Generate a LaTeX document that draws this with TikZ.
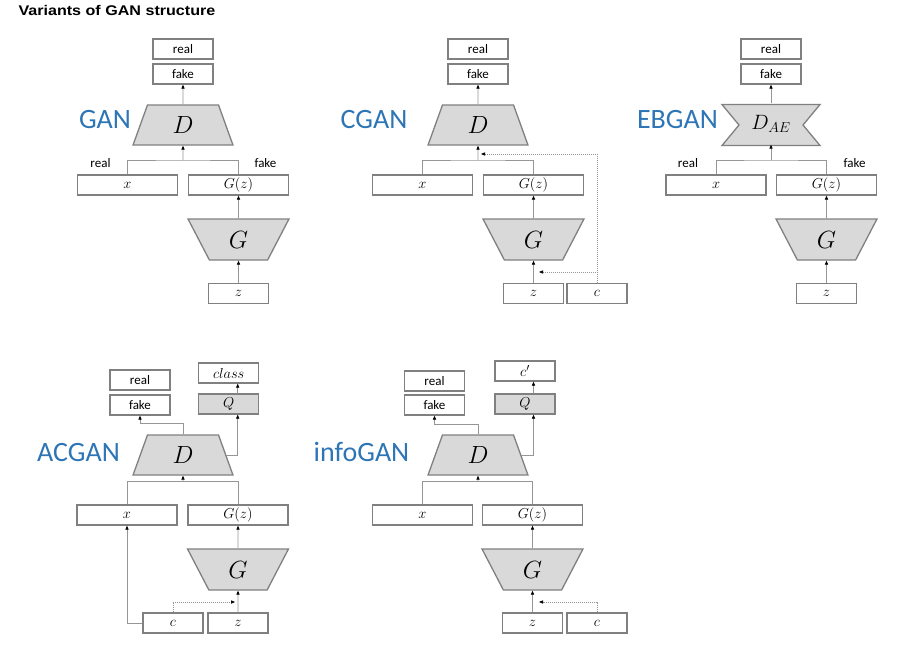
\documentclass[tikz,border=0pt]{standalone}
\usepackage{fontspec}
\setmainfont{Carlito}
\newfontfamily\headfont[FakeStretch=1.15]{Liberation Sans}
\usetikzlibrary{shapes.geometric,arrows.meta}

\definecolor{boxgray}{RGB}{128,128,128}
\definecolor{netgray}{RGB}{217,217,217}
\definecolor{linegray}{RGB}{150,150,150}
\definecolor{ganblue}{RGB}{46,117,182}

\tikzset{
  wide/.style={draw=boxgray, line width=1.3pt, fill=white, minimum width=100pt, minimum height=20pt, inner sep=0pt, font=\fontsize{15}{16}\selectfont},
  small/.style={wide, minimum width=60pt},
  word/.style={small, font=\fontsize{13}{14}\selectfont},
  qbox/.style={small, fill=netgray},
  dnet/.style={trapezium, trapezium left angle=76, trapezium right angle=76, trapezium stretches=true, minimum width=100pt, minimum height=40pt, draw=boxgray, line width=1.3pt, fill=netgray, inner sep=0pt, font=\fontsize{28}{30}\selectfont},
  gnet/.style={dnet, trapezium left angle=112.5, trapezium right angle=112.5, minimum width=101pt, minimum height=41pt, font=\fontsize{25}{27}\selectfont},
  link/.style={draw=linegray, line width=0.7pt, -{Triangle[length=4pt,width=3.2pt,color=black]}},
  nolink/.style={draw=linegray, line width=0.7pt},
  cond/.style={link, dash pattern=on 1pt off 1pt},
  tag/.style={font=\fontsize{13}{14}\selectfont},
  variant/.style={text=ganblue, font=\fontsize{28}{30}\selectfont},
}

\begin{document}
\begin{tikzpicture}[x=1pt,y=1pt,yscale=-1,xscale=1]
\useasboundingbox (0,0) rectangle (916,657);

% Title
\node[anchor=base west, font=\headfont\bfseries\fontsize{14}{16}\selectfont] (title) at (15,15.5) {Variants of GAN structure};

%%%% GAN
\node[variant] (gan) at (105,120) {GAN};
\node[word] (real1) at (183,49) {real};
\node[word] (fake1) at (183,74) {fake};
\node[dnet] (D1) at (183,125) {$D$};
\node[wide] (x1) at (127.5,185) {$x$};
\node[wide] (Gz1) at (238.5,185) {$G(z)$};
\node[gnet] (G1) at (238.5,239.5) {$G$};
\node[small] (z1) at (238.5,293.5) {$z$};
% Text Node
\node[tag] (r1) at (100.5,163) {real};
\node[tag] (f1) at (265.5,163) {fake};
\coordinate (j1) at (183,160);
\draw[link] (D1.north) -- (fake1.south);
\draw[nolink] (x1.north) |- (j1) -| (Gz1.north);
\draw[link] (j1) -- (D1.south);
\draw[link] (G1.north) -- (Gz1.south);
\draw[link] (z1.north) -- (G1.south);

%%%% CGAN
\node[variant] (cgan) at (374,120) {CGAN};
\node[word] (real2) at (478,49) {real};
\node[word] (fake2) at (478,74) {fake};
\node[dnet] (D2) at (478,125) {$D$};
\node[wide] (x2) at (422.5,185) {$x$};
\node[wide] (Gz2) at (533.5,185) {$G(z)$};
\node[gnet] (G2) at (533.5,239.5) {$G$};
\node[small] (z2) at (533.5,293.5) {$z$};
\node[small] (c2) at (597,293.5) {$c$};
\coordinate (j2) at (478,160);
\coordinate (cd2) at (481,154);
\coordinate (cg2) at (539,272);
\draw[link] (D2.north) -- (fake2.south);
\draw[nolink] (x2.north) |- (j2) -| (Gz2.north);
\draw[link] (j2) -- (D2.south);
\draw[link] (G2.north) -- (Gz2.south);
\draw[link] (z2.north) -- (G2.south);
\draw[cond] (c2.north) |- (cd2);
\draw[cond] (c2.north) |- (cg2);

%%%% EBGAN
\node[variant] (ebgan) at (677.5,120) {EBGAN};
\node[word] (real3) at (771,49) {real};
\node[word] (fake3) at (771,74) {fake};
%Shape: auto-encoder discriminator
\draw[draw=boxgray, line width=1.3pt, fill=netgray] (722,104.5) -- (820,104.5) -- (803,125) -- (820,145.5) -- (722,145.5) -- (739,125) -- cycle;
\node[minimum height=41pt, inner sep=0pt, font=\fontsize{21}{23}\selectfont] (D3) at (771,124) {$D_{AE}$};
\node[wide] (x3) at (716,185) {$x$};
\node[wide] (Gz3) at (826.5,185) {$G(z)$};
\node[gnet] (G3) at (826.5,239.5) {$G$};
\node[small] (z3) at (826.5,293.5) {$z$};
% Text Node
\node[tag] (r3) at (688,163) {real};
\node[tag] (f3) at (854.5,163) {fake};
\coordinate (j3) at (771,160);
\draw[link] (D3.north) -- (fake3.south);
\draw[nolink] (x3.north) |- (j3) -| (Gz3.north);
\draw[link] (j3) -- (D3.south);
\draw[link] (G3.north) -- (Gz3.south);
\draw[link] (z3.north) -- (G3.south);

%%%% ACGAN
\node[variant] (acgan) at (78.5,453) {ACGAN};
\node[word] (real4) at (140,380) {real};
\node[word] (fake4) at (140,405) {fake};
\node[small] (cls4) at (228.7,373) {$class$};
\node[qbox] (Q4) at (228.7,404) {$Q$};
\node[dnet] (D4) at (183,455) {$D$};
\node[wide] (x4) at (127,515) {$x$};
\node[wide] (Gz4) at (238,515) {$G(z)$};
\node[gnet] (G4) at (238,569.5) {$G$};
\node[small] (c4) at (173,623) {$c$};
\node[small] (z4) at (238,623) {$z$};
\coordinate (j4) at (183,481.7);
\coordinate (cg4) at (235,602);
\draw[link] (D4.north) -- ++(0,-11) -| (fake4.south);
\draw[link] (D4.east) -| ([xshift=9pt]Q4.south);
\draw[link] ([xshift=9pt]Q4.north) -- ([xshift=9pt]cls4.south);
\draw[nolink] (x4.north) |- (j4) -| (Gz4.north);
\draw[link] (j4) -- (D4.south);
\draw[link] (G4.north) -- (Gz4.south);
\draw[link] (z4.north) -- (G4.south);
\draw[link] (c4.west) -| (x4.south);
\draw[cond] (c4.north) |- (cg4);

%%%% infoGAN
\node[variant] (infogan) at (361.5,451.7) {infoGAN};
\node[word] (real5) at (434.5,381) {real};
\node[word] (fake5) at (434.5,405) {fake};
\node[small] (cp5) at (525,371) {$c'$};
\node[qbox] (Q5) at (525,404) {$Q$};
\node[dnet] (D5) at (478,455) {$D$};
\node[wide] (x5) at (422.5,515) {$x$};
\node[wide] (Gz5) at (532.5,515) {$G(z)$};
\node[gnet] (G5) at (532.5,569.5) {$G$};
\node[small] (z5) at (532.5,623) {$z$};
\node[small] (c5) at (597,623) {$c$};
\coordinate (j5) at (478,481);
\coordinate (cg5) at (539,602);
\draw[link] (D5.north) -- ++(0,-10) -| (fake5.south);
\draw[link] (D5.east) -| ([xshift=8.5pt]Q5.south);
\draw[link] ([xshift=8.5pt]Q5.north) -- ([xshift=8.5pt]cp5.south);
\draw[nolink] (x5.north) |- (j5) -| (Gz5.north);
\draw[link] (j5) -- (D5.south);
\draw[link] (G5.north) -- (Gz5.south);
\draw[link] (z5.north) -- (G5.south);
\draw[cond] (c5.north) |- (cg5);

\end{tikzpicture}
\end{document}
